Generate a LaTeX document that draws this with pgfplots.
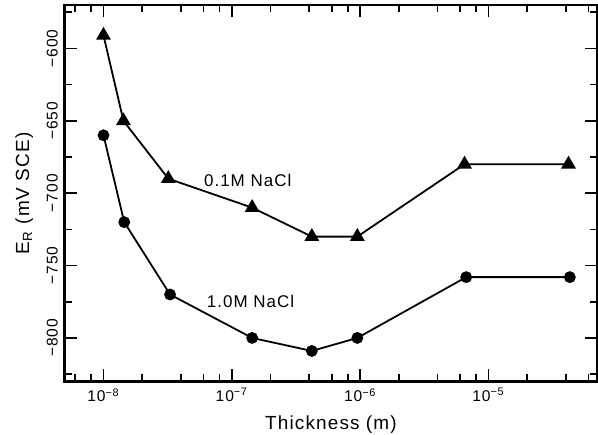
\documentclass[border=0pt]{standalone}
\usepackage{fontspec}
\setmainfont{Liberation Sans}[LetterSpace=6]
\usepackage{pgfplots}
\pgfplotsset{compat=1.18}

\begin{document}
\begin{tikzpicture}
\begin{axis}[
  scale only axis,
  width=266.5pt, height=188.5pt,
  xmode=log,
  xmin=5e-9, xmax=7e-5,
  ymin=-830, ymax=-570,
  axis line style={line width=1.4pt},
  tick style={line width=0.8pt, black},
  tick align=inside,
  major tick length=6pt,
  minor tick length=3.5pt,
  xtick={1e-8,1e-7,1e-6,1e-5},
  xticklabels={10\textsuperscript{−8},10\textsuperscript{−7},10\textsuperscript{−6},10\textsuperscript{−5}},
  minor xtick={6e-9,8e-9,2e-8,4e-8,6e-8,8e-8,2e-7,4e-7,6e-7,8e-7,2e-6,4e-6,6e-6,8e-6,2e-5,4e-5,6e-5},
  ytick={-800,-750,-700,-650,-600},
  yticklabels={−800,−750,−700,−650,−600},
  minor ytick={-825,-775,-725,-675,-625,-575},
  yticklabel style={rotate=90, anchor=south},
  ticklabel style={font=\fontsize{7.8}{9}\selectfont},
  xlabel={Thickness (m)},
  ylabel={E\textsubscript{R} (mV SCE)},
  label style={font=\fontsize{9.5}{11}\selectfont},
  clip=false,
]
\addplot[black, line width=0.9pt, mark=triangle*, mark size=3.4pt, mark options={solid}] coordinates {
  (1e-8,-591) (1.43e-8,-650) (3.2e-8,-690) (1.44e-7,-710)
  (4.2e-7,-730) (9.5e-7,-730) (6.5e-6,-680) (4.2e-5,-680)
};
\addplot[black, line width=0.9pt, mark=*, mark size=2.5pt] coordinates {
  (1e-8,-660) (1.45e-8,-720) (3.3e-8,-770) (1.44e-7,-800)
  (4.2e-7,-809) (9.5e-7,-800) (6.7e-6,-758) (4.3e-5,-758)
};
\node[font=\fontsize{8.5}{10}\selectfont] at (axis cs:1.33e-7,-691) {0.1M NaCl};
\node[font=\fontsize{8.5}{10}\selectfont] at (axis cs:1.4e-7,-775) {1.0M NaCl};
\end{axis}
\pgfresetboundingbox
\path[use as bounding box] ([xshift=-32.5pt,yshift=-26.5pt]current axis.south west) rectangle ([xshift=0.5pt,yshift=2.5pt]current axis.north east);
\end{tikzpicture}
\end{document}
